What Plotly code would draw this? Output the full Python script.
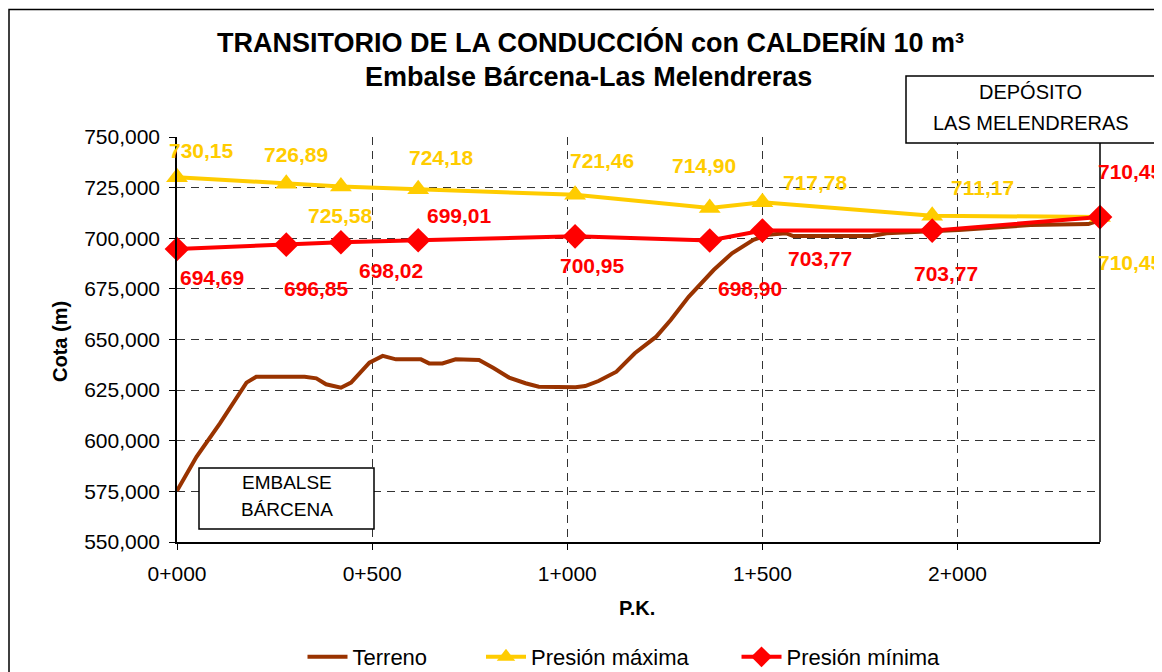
import plotly.graph_objects as go

# ---------------- data ----------------
terreno_pk = [0, 50, 110, 148, 178, 203, 327, 357, 382, 420, 446, 493, 527, 561, 625, 646,
              680, 714, 774, 812, 851, 893, 927, 1021, 1046, 1080, 1126, 1173, 1228, 1265,
              1311, 1375, 1422, 1477, 1514, 1560, 1579, 1781, 1818, 2003, 2077, 2187, 2335, 2365]
terreno_cota = [575.3, 592.1, 608.6, 620.1, 628.7, 631.6, 631.6, 630.8, 627.9, 626.2, 628.7,
                638.6, 641.9, 640.2, 640.2, 638.2, 638.2, 640.2, 639.9, 635.8, 631.2, 628.4,
                626.7, 626.4, 627.0, 629.5, 634.1, 643.2, 651.4, 659.6, 671.1, 684.3, 692.6,
                699.2, 701.7, 702.5, 701.1, 701.1, 702.5, 704.1, 704.9, 706.5, 707.0, 709.0]

puntos_pk = [0, 280, 420, 618, 1020, 1365, 1500, 1935, 2365]
presion_max = [730.15, 726.89, 725.58, 724.18, 721.46, 714.90, 717.78, 711.17, 710.45]
presion_min = [694.69, 696.85, 698.02, 699.01, 700.95, 698.90, 703.77, 703.77, 710.45]

y_ticks = [550, 575, 600, 625, 650, 675, 700, 725, 750]
y_ticktext = ["550,000", "575,000", "600,000", "625,000", "650,000",
              "675,000", "700,000", "725,000", "750,000"]
x_ticks = [0, 500, 1000, 1500, 2000]
x_ticktext = ["0+000", "0+500", "1+000", "1+500", "2+000"]

series_names = ["Terreno", "Presión máxima", "Presión mínima"]

# label offsets (pixels) – style only
max_dx = [24, 10, 0, 23, 27, -6, 53, 50, 30]
max_dy = [27, 29, -29, 32, 34, 43, 20, 28, -45]
min_dx = [35, 30, 50, 41, 17, 40, 58, 14, 30]
min_dy = [-28, -44, -28, 25, -29, -48, -28, -43, 46]

def fmt(v):
    return f"{v:.2f}".replace(".", ",")

YELLOW = "#FFCC00"
RED = "#FF0000"
BROWN = "#993300"
FONT = "Liberation Sans, Arial, sans-serif"
PAD1 = "\u00a0" * 8
PAD2 = "\u00a0" * 7

fig = go.Figure()
fig.add_trace(go.Scatter(x=terreno_pk, y=terreno_cota, mode="lines", name=series_names[0] + PAD1,
                         line=dict(color=BROWN, width=4), cliponaxis=False))
fig.add_trace(go.Scatter(x=puntos_pk, y=presion_max, mode="lines+markers",
                         name=series_names[1] + PAD2,
                         line=dict(color=YELLOW, width=4),
                         marker=dict(symbol="triangle-up", size=19, color=YELLOW),
                         cliponaxis=False))
fig.add_trace(go.Scatter(x=puntos_pk, y=presion_min, mode="lines+markers", name=series_names[2],
                         line=dict(color=RED, width=4),
                         marker=dict(symbol="diamond", size=19, color=RED),
                         cliponaxis=False))

annotations = []
for x, v, dx, dy in zip(puntos_pk, presion_max, max_dx, max_dy):
    annotations.append(dict(x=x, y=v, xref="x", yref="y", text=fmt(v), showarrow=False,
                            xshift=dx, yshift=dy, xanchor="center", yanchor="middle",
                            font=dict(family=FONT, size=21, color=YELLOW, weight="bold")))
for x, v, dx, dy in zip(puntos_pk, presion_min, min_dx, min_dy):
    annotations.append(dict(x=x, y=v, xref="x", yref="y", text=fmt(v), showarrow=False,
                            xshift=dx, yshift=dy, xanchor="center", yanchor="middle",
                            font=dict(family=FONT, size=21, color=RED, weight="bold")))

# page geometry (the page body has an 8px margin)
OFF = 8
L, T, PW, PH = 177, 137, 923, 405
W, H = 1162 - OFF, 672 - OFF

def px(xp):
    return (xp - L) / PW

def py(yp):
    return (T + PH - yp) / PH

def txt(x, y, text, size, bold=False, angle=0):
    f = dict(family=FONT, size=size, color="black")
    if bold:
        f["weight"] = "bold"
    return dict(x=px(x), y=py(y), xref="paper", yref="paper", showarrow=False,
                xanchor="center", yanchor="middle", textangle=angle, text=text, font=f)

annotations += [
    txt(590, 42, "TRANSITORIO DE LA CONDUCCIÓN con CALDERÍN 10 m³", 27, True),
    txt(588, 77, "Embalse Bárcena-Las Melendreras", 27, True),
    txt(60, 342, "Cota (m)", 20, True, -90),
    txt(637, 608, "P.K.", 20, True),
    txt(286.5, 482, "EMBALSE", 19),
    txt(286.5, 509, "BÁRCENA", 19),
    txt(1030.5, 92, "DEPÓSITO", 20),
    txt(1030.5, 123, "LAS MELENDRERAS", 20),
]

shapes = [
    dict(type="line", xref="paper", yref="paper", x0=1, x1=1, y0=0, y1=1,
         line=dict(color="black", width=1.5), layer="above"),
    dict(type="rect", xref="paper", yref="paper", x0=px(9), x1=px(1200), y0=py(9.5), y1=py(720),
         line=dict(color="black", width=1.5), layer="above"),
    dict(type="rect", xref="paper", yref="paper", x0=px(199), x1=px(374), y0=py(468), y1=py(529),
         line=dict(color="black", width=1.5), fillcolor="white", layer="above"),
    dict(type="rect", xref="paper", yref="paper", x0=px(906), x1=px(1155), y0=py(76), y1=py(143),
         line=dict(color="black", width=1.5), fillcolor="white", layer="above"),
]

fig.update_layout(
    width=W, height=H,
    margin=dict(l=L - OFF, r=W - (L - OFF) - PW, t=T - OFF, b=H - (T - OFF) - PH, pad=0,
                autoexpand=False),
    paper_bgcolor="white", plot_bgcolor="white",
    font=dict(family=FONT, size=21, color="black"),
    showlegend=True,
    legend=dict(orientation="h", x=px(624), y=py(657), xanchor="center", yanchor="middle",
                font=dict(family=FONT, size=22, color="black"), bgcolor="rgba(0,0,0,0)",
                itemwidth=40, tracegroupgap=0),
    annotations=annotations,
    shapes=shapes,
)
fig.update_xaxes(range=[0, 2365], tickvals=x_ticks, ticktext=x_ticktext,
                 showgrid=True, gridcolor="#333333", gridwidth=1, griddash="8px,6px",
                 showline=True, linecolor="black", linewidth=1.5,
                 ticks="outside", ticklen=6, tickcolor="black", tickwidth=1,
                 ticklabelstandoff=6, zeroline=False,
                 tickfont=dict(family=FONT, size=21, color="black"))
fig.update_yaxes(range=[550, 750], tickvals=y_ticks, ticktext=y_ticktext,
                 showgrid=True, gridcolor="#333333", gridwidth=1, griddash="8px,6px",
                 showline=True, linecolor="black", linewidth=1.5,
                 ticks="outside", ticklen=6, tickcolor="black", tickwidth=1,
                 ticklabelstandoff=5, zeroline=False,
                 tickfont=dict(family=FONT, size=21, color="black"))

fig.write_html("out.html")
